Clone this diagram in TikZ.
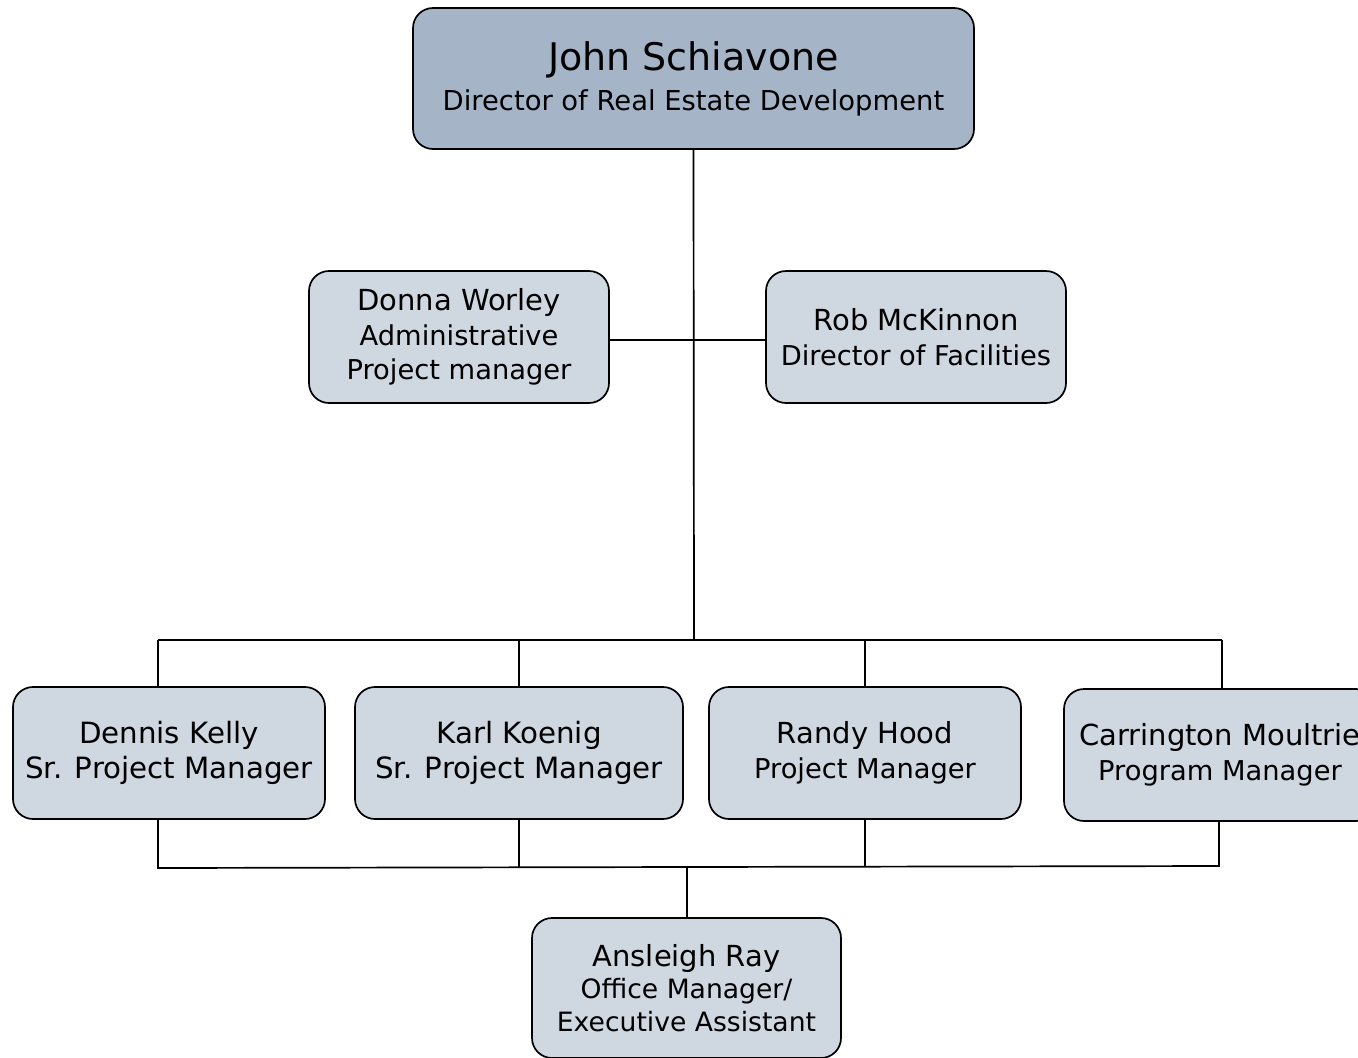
\documentclass[tikz,border=0pt]{standalone}
\usepackage{fontspec}
\setmainfont{DejaVu Sans}
\definecolor{topfill}{RGB}{166,180,200}
\definecolor{boxfill}{RGB}{207,215,225}
\tikzset{
  box/.style={draw=black, line width=1.7pt, rounded corners=20pt, fill=boxfill,
    inner sep=0pt, align=center, font=\fontsize{27.3}{34.5}\selectfont},
  topbox/.style={box, fill=topfill, font=\fontsize{27.4}{40}\selectfont},
  conn/.style={draw=black, line width=1.7pt}
}
\newcommand{\nm}[1]{{\fontsize{29}{34.5}\selectfont #1}}
\begin{document}
\begin{tikzpicture}[x=1pt,y=-1pt]
\path[use as bounding box, clip] (0,0) rectangle (1358,1058);
\fill[white] (0,0) rectangle (1358,1058);
% boxes
\node[topbox, minimum width=561pt, minimum height=141pt] (john) at (693.5,78.5)
  {{\fontsize{38}{40}\selectfont John Schiavone}\\Director of Real Estate Development};
\node[box, minimum width=300pt, minimum height=132pt] (donna) at (459,337)
  {\nm{Donna Worley}\\Administrative\\Project manager};
\node[box, minimum width=300pt, minimum height=132pt] (rob) at (916,337)
  {\nm{Rob McKinnon}\\Director of Facilities};
\node[box, minimum width=312pt, minimum height=132pt, font=\fontsize{29.3}{35}\selectfont] (dennis) at (169,753)
  {Dennis Kelly\\Sr. Project Manager};
\node[box, minimum width=328pt, minimum height=132pt, font=\fontsize{29.3}{35}\selectfont] (karl) at (519,753)
  {Karl Koenig\\Sr. Project Manager};
\node[box, minimum width=312pt, minimum height=132pt] (randy) at (865,753)
  {\nm{Randy Hood}\\Project Manager};
\node[box, minimum width=312pt, minimum height=132pt] (carr) at (1220,755)
  {\nm{Carrington Moultrie}\\Program Manager};
\node[box, minimum width=309pt, minimum height=140pt, font=\fontsize{26.6}{32.5}\selectfont] (ans) at (686.5,988)
  {\nm{Ansleigh Ray}\\Office Manager/\\Executive Assistant};
% connector points
\coordinate (hub) at (694,640);
\coordinate (mid) at (694,340);
\coordinate (tl) at (158,640);
\coordinate (tk) at (519,640);
\coordinate (tr) at (865,640);
\coordinate (tc) at (1222,640);
\coordinate (bl) at (158,868);
\coordinate (bk) at (519,867);
\coordinate (br) at (865,867);
\coordinate (bc) at (1219,866);
\coordinate (ba) at (687,867);
% connectors
\draw[conn] (john.south) -- (hub);
\draw[conn] (donna.east |- mid) -- (rob.west |- mid);
\draw[conn] (tl) -- (tc);
\draw[conn] (tl) -- (tl |- dennis.north);
\draw[conn] (tk) -- (karl.north);
\draw[conn] (tr) -- (randy.north);
\draw[conn] (tc) -- (tc |- carr.north);
\draw[conn] (bl |- dennis.south) -- (bl) -- (bc) -- (bc |- carr.south);
\draw[conn] (karl.south) -- (bk);
\draw[conn] (randy.south) -- (br);
\draw[conn] (ba) -- (ba |- ans.north);
\end{tikzpicture}
\end{document}
